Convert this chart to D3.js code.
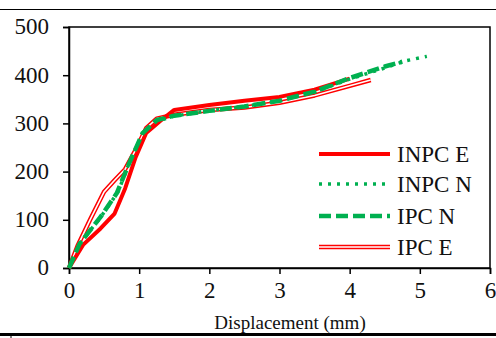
<!DOCTYPE html>
<html>
<head>
<meta charset="utf-8">
<script src="https://cdn.jsdelivr.net/npm/d3@7"></script>
<style>
  body { margin: 0; background: #fff; }
  svg text { font-family: "Liberation Serif", "Times New Roman", Times, "DejaVu Serif", serif; fill: #111; }
</style>
</head>
<body>
<svg id="plot"></svg>
<script>
// data
const xTicks = [0, 1, 2, 3, 4, 5, 6];
const yTicks = [0, 100, 200, 300, 400, 500];
const seriesNames = ["INPC E", "INPC N", "IPC N", "IPC E"];

const inpcE = [[0,0],[0.2,48],[0.45,82],[0.65,113],[0.8,165],[0.95,230],[1.1,280],[1.3,305],[1.5,328],[2.0,338],[2.5,347],[3.0,355],[3.5,370],[4.0,393]];
const inpcN = [[0,0],[0.15,50],[0.45,105],[0.7,158],[0.85,215],[1.05,280],[1.25,305],[1.5,315],[2.0,327],[2.5,335],[3.0,347],[3.5,365],[4.0,392],[4.5,415],[4.8,430],[5.1,439]];
const ipcN = [[0,0],[0.15,50],[0.45,106],[0.68,155],[0.85,215],[1.05,280],[1.25,307],[1.5,316],[2.0,326],[2.5,335],[3.0,347],[3.5,366],[4.0,394],[4.5,418],[4.75,428]];
const ipcE = [[0,0],[0.12,45],[0.3,100],[0.5,158],[0.65,182],[0.8,205],[0.95,245],[1.1,290],[1.25,310],[1.5,318],[2.0,328],[2.5,333],[3.0,343],[3.5,358],[4.0,378],[4.3,390]];

const svg = d3.select("#plot").attr("width", 496).attr("height", 338);
const margin = { top: 27, right: 6, bottom: 70, left: 69 };
const width = 496 - margin.left - margin.right;
const height = 338 - margin.top - margin.bottom;

// page rules (top & bottom)
svg.append("line").attr("x1", 0).attr("x2", 496).attr("y1", 9.5).attr("y2", 9.5)
    .attr("stroke", "#000").attr("stroke-width", 1);
svg.append("line").attr("x1", 0).attr("x2", 496).attr("y1", 334.5).attr("y2", 334.5)
    .attr("stroke", "#000").attr("stroke-width", 3);
svg.append("line").attr("x1", 11).attr("x2", 11).attr("y1", 336).attr("y2", 338)
    .attr("stroke", "#000").attr("stroke-width", 1);

const g = svg.append("g").attr("transform", `translate(${margin.left},${margin.top})`);

const x = d3.scaleLinear().domain([0, 6]).range([0, width]);
const y = d3.scaleLinear().domain([0, 500]).range([height, 0]);

// frame
g.append("rect").attr("width", width).attr("height", height)
    .attr("fill", "none").attr("stroke", "#000").attr("stroke-width", 1.5);

// axes
const xAxis = g.append("g").attr("transform", `translate(0,${height})`)
    .call(d3.axisBottom(x).tickValues(xTicks).tickFormat(d3.format("d")).tickSize(6).tickPadding(8));
const yAxis = g.append("g")
    .call(d3.axisLeft(y).tickValues(yTicks).tickFormat(d3.format("d")).tickSize(6).tickPadding(14));
[xAxis, yAxis].forEach(a => {
    a.attr("font-family", null).attr("font-size", null);
    a.select(".domain").attr("stroke", "#000").attr("stroke-width", 1.5);
    a.selectAll(".tick line").attr("stroke", "#000").attr("stroke-width", 1.5);
    a.selectAll("text").style("font-size", "23px").attr("fill", "#111");
});
yAxis.selectAll("text").attr("dy", "0.3em");

// x label
svg.append("text")
    .attr("x", 290).attr("y", 329)
    .attr("text-anchor", "middle")
    .style("font-size", "19px")
    .text("Displacement (mm)");

const line = d3.line().x(d => x(d[0])).y(d => y(d[1]));

const styles = {
    "INPC E": { color: "#ff0000", w: 4, dash: null },
    "INPC N": { color: "#00b050", w: 3.5, dash: "3,6" },
    "IPC N": { color: "#00b050", w: 4.5, dash: "12,5" },
    "IPC E": { color: "#ff0000", w: 4.5, dash: null, double: true }
};
const dataBy = { "INPC E": inpcE, "INPC N": inpcN, "IPC N": ipcN, "IPC E": ipcE };

function drawPath(sel, st, dAttr) {
    const p = sel.append("path").attr("d", dAttr).attr("fill", "none")
        .attr("stroke", st.color).attr("stroke-width", st.w)
        .attr("stroke-linejoin", "round");
    if (st.dash) p.attr("stroke-dasharray", st.dash);
    if (st.double) {
        sel.append("path").attr("d", dAttr).attr("fill", "none")
            .attr("stroke", "#fff").attr("stroke-width", 1.6)
            .attr("stroke-linejoin", "round");
    }
}

// draw order
["IPC E", "INPC E", "INPC N", "IPC N"].forEach(name => {
    drawPath(g, styles[name], line(dataBy[name]));
});

// legend
const legendY = [154, 184, 216, 247];
seriesNames.forEach((name, i) => {
    const ly = legendY[i] - margin.top;
    drawPath(g, styles[name], `M${319 - margin.left},${ly}H${390 - margin.left}`);
    g.append("text")
        .attr("x", 397 - margin.left).attr("y", ly + 8)
        .style("font-size", "23px")
        .text(name);
});
</script>
</body>
</html>
